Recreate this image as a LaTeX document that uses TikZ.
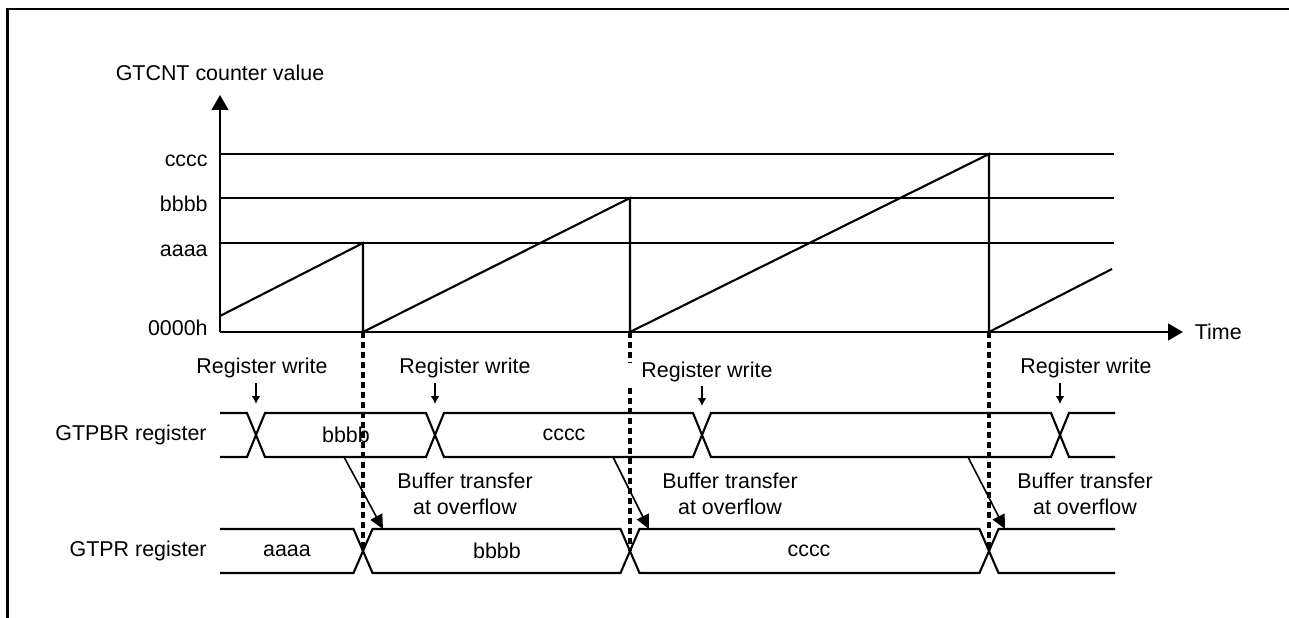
\documentclass[tikz,border=0pt]{standalone}
\usepackage{fontspec}
\setmainfont{Liberation Sans}
\usetikzlibrary{arrows.meta,positioning}
\tikzset{
  frame/.style={line width=1.6pt},
  wave/.style={line width=1.2pt},
  axis/.style={-{Triangle[length=8.5pt,width=9.5pt]}, line width=1.2pt},
  guide/.style={dash pattern=on 3.4pt off 2.3pt, line width=1.8pt},
  wrarrow/.style={-{Latex[length=4.5pt,width=5pt]}, line width=1pt},
  transfer/.style={-{Triangle[length=8pt,width=7.5pt]}, line width=0.9pt},
  txt/.style={font=\fontsize{12.2}{14.6}\selectfont, inner sep=0pt},
  note/.style={txt, align=center}
}

\begin{document}
\begin{tikzpicture}[x=0.02cm, y=-0.02cm]
  \useasboundingbox (0,0) rectangle (1289,618);
  \draw[frame] (7.5,618) -- (7.5,9) -- (1289,9);

  % counter axes and levels
  \coordinate (origin) at (220,332);
  \coordinate (ytop) at (220,95);
  \coordinate (tend) at (1183,332);
  \draw[axis] (origin) -- (ytop);
  \draw[axis] (origin) -- (tend);
  \node[txt, above=2.8mm of ytop] (ylabel) {GTCNT counter value};
  \node[txt, right=2.3mm of tend] (time) {Time};

  \coordinate (lvlc) at (220,154);
  \coordinate (lvlb) at (220,198);
  \coordinate (lvla) at (220,243);
  \coordinate (endc) at (1114,154);
  \coordinate (endb) at (1114,198);
  \coordinate (enda) at (1114,243);
  \draw[wave] (lvlc) -- (endc);
  \draw[wave] (lvlb) -- (endb);
  \draw[wave] (lvla) -- (enda);
  \node[txt, anchor=east] (valc) at (208,161) {cccc};
  \node[txt, anchor=east] (valb) at (208,204) {bbbb};
  \node[txt, anchor=east] (vala) at (208,251) {aaaa};
  \node[txt, anchor=east] (valz) at (208,328) {0000h};

  % sawtooth
  \draw[wave] (220,316) -- (363,243) -- (363,332) -- (630,198) -- (630,332)
    -- (989,154) -- (989,332) -- (1112,269);

  % overflow guides
  \coordinate (ov1) at (363,332);
  \coordinate (ov1e) at (363,551);
  \coordinate (ov2) at (630,332);
  \coordinate (ov2m) at (630,363);
  \coordinate (ov2n) at (630,388);
  \coordinate (ov2e) at (630,551);
  \coordinate (ov3) at (989,332);
  \coordinate (ov3e) at (989,551);
  \draw[guide] (ov1) -- (ov1e);
  \draw[guide] (ov2) -- (ov2m);
  \draw[guide] (ov2n) -- (ov2e);
  \draw[guide] (ov3) -- (ov3e);

  % GTPBR register
  \node[txt, anchor=east] (pbr) at (207,435) {GTPBR register};
  \draw[wave] (220,413) -- (247,413) -- (265,457) -- (426,457) -- (444,413)
    -- (693,413) -- (711,457) -- (1051,457) -- (1069,413) -- (1115,413);
  \draw[wave] (220,457) -- (247,457) -- (265,413) -- (426,413) -- (444,457)
    -- (693,457) -- (711,413) -- (1051,413) -- (1069,457) -- (1115,457);
  \node[txt] (pbrb) at (346,435) {bbbb};
  \node[txt] (pbrc) at (564,435) {cccc};

  % register writes
  \node[txt] (rw1) at (262,368) {Register write};
  \node[txt] (rw2) at (465,368) {Register write};
  \node[txt] (rw3) at (707,372) {Register write};
  \node[txt] (rw4) at (1086,368) {Register write};
  \coordinate (w1s) at (256,383);
  \coordinate (w1e) at (256,404);
  \coordinate (w2s) at (435,383);
  \coordinate (w2e) at (435,404);
  \coordinate (w3s) at (702,386);
  \coordinate (w3e) at (702,406);
  \coordinate (w4s) at (1060,383);
  \coordinate (w4e) at (1060,404);
  \draw[wrarrow] (w1s) -- (w1e);
  \draw[wrarrow] (w2s) -- (w2e);
  \draw[wrarrow] (w3s) -- (w3e);
  \draw[wrarrow] (w4s) -- (w4e);

  % GTPR register
  \node[txt, anchor=east] (pr) at (207,551) {GTPR register};
  \draw[wave] (220,529) -- (353.5,529) -- (372.5,573) -- (620.5,573) -- (639.5,529)
    -- (979.5,529) -- (998.5,573) -- (1115,573);
  \draw[wave] (220,573) -- (353.5,573) -- (372.5,529) -- (620.5,529) -- (639.5,573)
    -- (979.5,573) -- (998.5,529) -- (1115,529);
  \node[txt] (pra) at (287,551) {aaaa};
  \node[txt] (prb) at (497,551) {bbbb};
  \node[txt] (prc) at (809,551) {cccc};

  % buffer transfers
  \coordinate (bt1s) at (344,457);
  \coordinate (bt1e) at (383,529);
  \coordinate (bt2s) at (613,457);
  \coordinate (bt2e) at (649,529);
  \coordinate (bt3s) at (968,457);
  \coordinate (bt3e) at (1005,529);
  \draw[transfer] (bt1s) -- (bt1e);
  \draw[transfer] (bt2s) -- (bt2e);
  \draw[transfer] (bt3s) -- (bt3e);
  \node[note] (bt1) at (465,494) {Buffer transfer\\at overflow};
  \node[note] (bt2) at (730,494) {Buffer transfer\\at overflow};
  \node[note] (bt3) at (1085,494) {Buffer transfer\\at overflow};
\end{tikzpicture}
\end{document}
